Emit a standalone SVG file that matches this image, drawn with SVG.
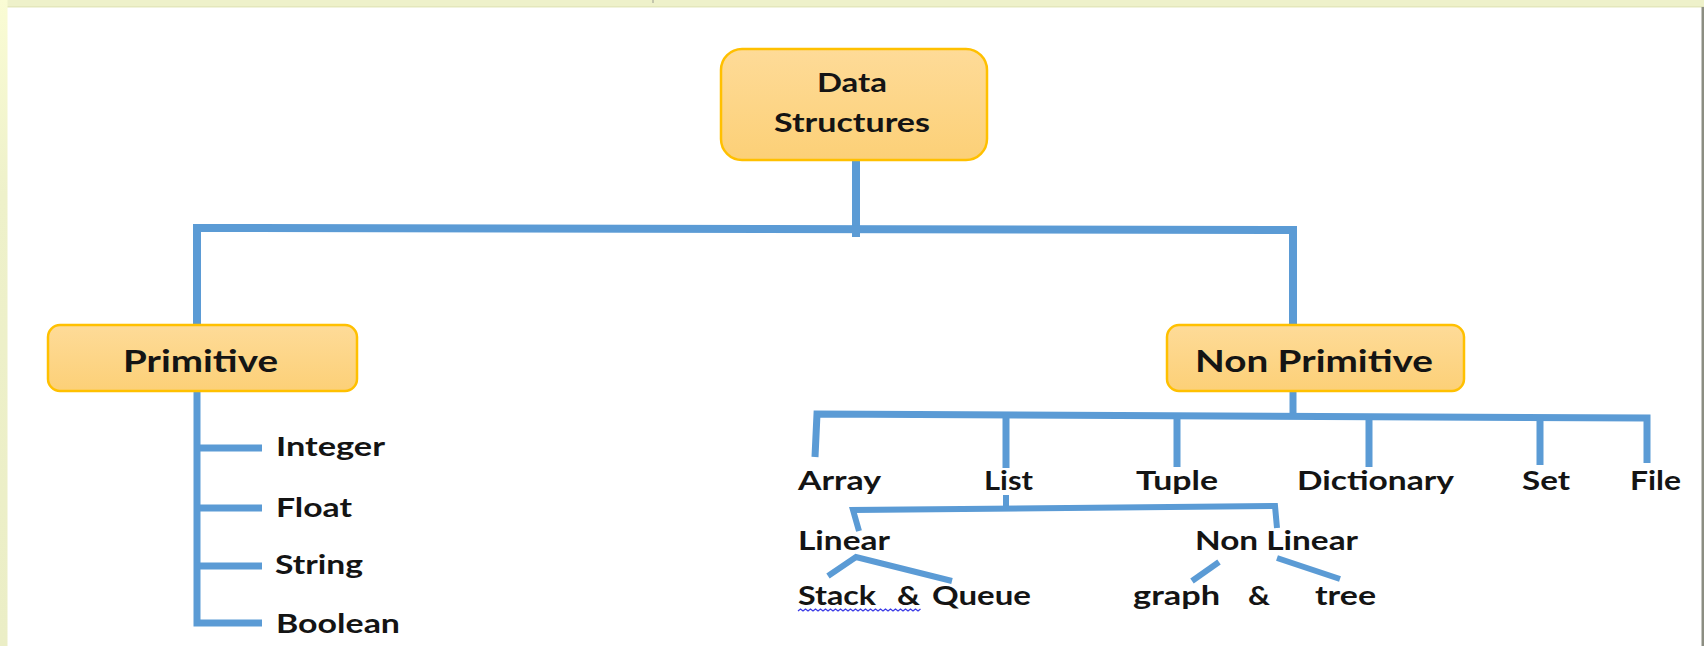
<svg xmlns="http://www.w3.org/2000/svg" width="1704" height="646" viewBox="0 0 1704 646">
  <style>
    .box { fill: url(#boxFill); stroke: #FFC000; stroke-width: 2.5; }
    .lbl { font-family: Lato, "Open Sans", "Liberation Sans", sans-serif; font-weight: bold; fill: #141414; }
    .big { font-size: 30px; }
    .mid { font-size: 26px; }
    .leaf { font-size: 26px; }
    .wire { fill: none; stroke: #5B9BD5; stroke-width: 7; stroke-linejoin: miter; stroke-linecap: butt; }
    .wire.main { stroke-width: 8; }
    .wire.thin { stroke-width: 6; }
  </style>
  <defs>
    <linearGradient id="boxFill" x1="0" y1="0" x2="0" y2="1">
      <stop offset="0" stop-color="#FEDB98"/>
      <stop offset="1" stop-color="#FCD077"/>
    </linearGradient>
    <linearGradient id="edgeFill" x1="0" y1="0" x2="0" y2="1">
      <stop offset="0" stop-color="#FAFCD4"/>
      <stop offset="0.3" stop-color="#EEF1CA"/>
      <stop offset="1" stop-color="#EBEEC6"/>
    </linearGradient>
  </defs>

  <!-- page frame -->
  <rect x="0" y="0" width="1704" height="646" fill="#FFFFFF"/>
  <rect x="0" y="0" width="1704" height="7" fill="#EEF1CA"/>
  <rect x="0" y="6" width="1704" height="1.5" fill="#E4E7BC"/>
  <rect x="0" y="0" width="7.5" height="646" fill="url(#edgeFill)"/>
  <rect x="1701.5" y="7" width="2.5" height="639" fill="#8C8E82"/>
  <rect x="652.5" y="0" width="1" height="3" fill="#9A9C90"/>

  <!-- connectors -->
  <g id="connectors">
    <!-- root to the two main categories -->
    <path class="wire main" d="M856,160 V237"/>
    <path class="wire main" d="M197,325 V228 L1293,230 V325"/>
    <!-- primitive list -->
    <path class="wire" d="M197,391 V623 H262"/>
    <path class="wire" d="M197,448 H262 M197,508 H262 M197,566 H262"/>
    <!-- non primitive list -->
    <path class="wire" d="M1293,391 V416"/>
    <path class="wire" d="M815,457 L817,414 L1647,418 V463"/>
    <path class="wire" d="M1006,414 V468 M1177,415 V467 M1369,416 V467 M1540,417 V465"/>
    <!-- list subdivision -->
    <path class="wire thin" d="M1006,495 V509"/>
    <path class="wire thin" d="M859,531 L853,510 L1275,506 L1277,528"/>
    <path class="wire thin" d="M828,576 L856,557 L952,581"/>
    <path class="wire thin" d="M1192,581 L1219,562"/>
    <path class="wire thin" d="M1277,558 L1340,579"/>
  </g>

  <!-- root -->
  <g id="node-data-structures">
    <rect class="box" x="721" y="49" width="266" height="111" rx="21"/>
    <text class="lbl mid" x="817" y="92" textLength="70" lengthAdjust="spacingAndGlyphs">Data</text>
    <text class="lbl mid" x="774" y="132" textLength="156" lengthAdjust="spacingAndGlyphs">Structures</text>
  </g>

  <g id="node-primitive">
    <rect class="box" x="48" y="325" width="309" height="66" rx="12"/>
    <text class="lbl big" x="123" y="372" textLength="155" lengthAdjust="spacingAndGlyphs">Primitive</text>
  </g>

  <g id="node-non-primitive">
    <rect class="box" x="1167" y="325" width="297" height="66" rx="12"/>
    <text class="lbl big" x="1195" y="372" textLength="238" lengthAdjust="spacingAndGlyphs">Non Primitive</text>
  </g>

  <!-- primitive types -->
  <g id="node-integer"><text class="lbl leaf" x="276" y="456" textLength="109" lengthAdjust="spacingAndGlyphs">Integer</text></g>
  <g id="node-float"><text class="lbl leaf" x="276" y="517" textLength="76" lengthAdjust="spacingAndGlyphs">Float</text></g>
  <g id="node-string"><text class="lbl leaf" x="275" y="574" textLength="88" lengthAdjust="spacingAndGlyphs">String</text></g>
  <g id="node-boolean"><text class="lbl leaf" x="276" y="633" textLength="124" lengthAdjust="spacingAndGlyphs">Boolean</text></g>

  <!-- non primitive types -->
  <g id="node-array"><text class="lbl leaf" x="798" y="490" textLength="83" lengthAdjust="spacingAndGlyphs">Array</text></g>
  <g id="node-list"><text class="lbl leaf" x="984" y="490" textLength="49" lengthAdjust="spacingAndGlyphs">List</text></g>
  <g id="node-tuple"><text class="lbl leaf" x="1136" y="490" textLength="82" lengthAdjust="spacingAndGlyphs">Tuple</text></g>
  <g id="node-dictionary"><text class="lbl leaf" x="1297" y="490" textLength="157" lengthAdjust="spacingAndGlyphs">Dictionary</text></g>
  <g id="node-set"><text class="lbl leaf" x="1522" y="490" textLength="48" lengthAdjust="spacingAndGlyphs">Set</text></g>
  <g id="node-file"><text class="lbl leaf" x="1630" y="490" textLength="51" lengthAdjust="spacingAndGlyphs">File</text></g>

  <!-- list kinds -->
  <g id="node-linear"><text class="lbl leaf" x="798" y="550" textLength="92" lengthAdjust="spacingAndGlyphs">Linear</text></g>
  <g id="node-non-linear"><text class="lbl leaf" x="1195" y="550" textLength="163" lengthAdjust="spacingAndGlyphs">Non Linear</text></g>

  <g id="node-stack-queue">
    <text class="lbl leaf" y="605"><tspan x="798" textLength="78" lengthAdjust="spacingAndGlyphs">Stack</tspan><tspan x="897" textLength="23" lengthAdjust="spacingAndGlyphs">&amp;</tspan><tspan x="932" textLength="99" lengthAdjust="spacingAndGlyphs">Queue</tspan></text>
    <path d="M798,611 l2.5,-2 l2.5,2 l2.5,-2 l2.5,2 l2.5,-2 l2.5,2 l2.5,-2 l2.5,2 l2.5,-2 l2.5,2 l2.5,-2 l2.5,2 l2.5,-2 l2.5,2 l2.5,-2 l2.5,2 l2.5,-2 l2.5,2 l2.5,-2 l2.5,2 l2.5,-2 l2.5,2 l2.5,-2 l2.5,2 l2.5,-2 l2.5,2 l2.5,-2 l2.5,2 l2.5,-2 l2.5,2 l2.5,-2 l2.5,2 l2.5,-2 l2.5,2 l2.5,-2 l2.5,2 l2.5,-2 l2.5,2 l2.5,-2 l2.5,2 l2.5,-2 l2.5,2 l2.5,-2 l2.5,2 l2.5,-2 l2.5,2 l2.5,-2 l2.5,2 l2.5,-2" fill="none" stroke="#3A3AE6" stroke-width="1.3"/>
  </g>

  <g id="node-graph-tree">
    <text class="lbl leaf" y="605"><tspan x="1133" textLength="87" lengthAdjust="spacingAndGlyphs">graph</tspan><tspan x="1248" textLength="22" lengthAdjust="spacingAndGlyphs">&amp;</tspan><tspan x="1315" textLength="61" lengthAdjust="spacingAndGlyphs">tree</tspan></text>
  </g>
</svg>
